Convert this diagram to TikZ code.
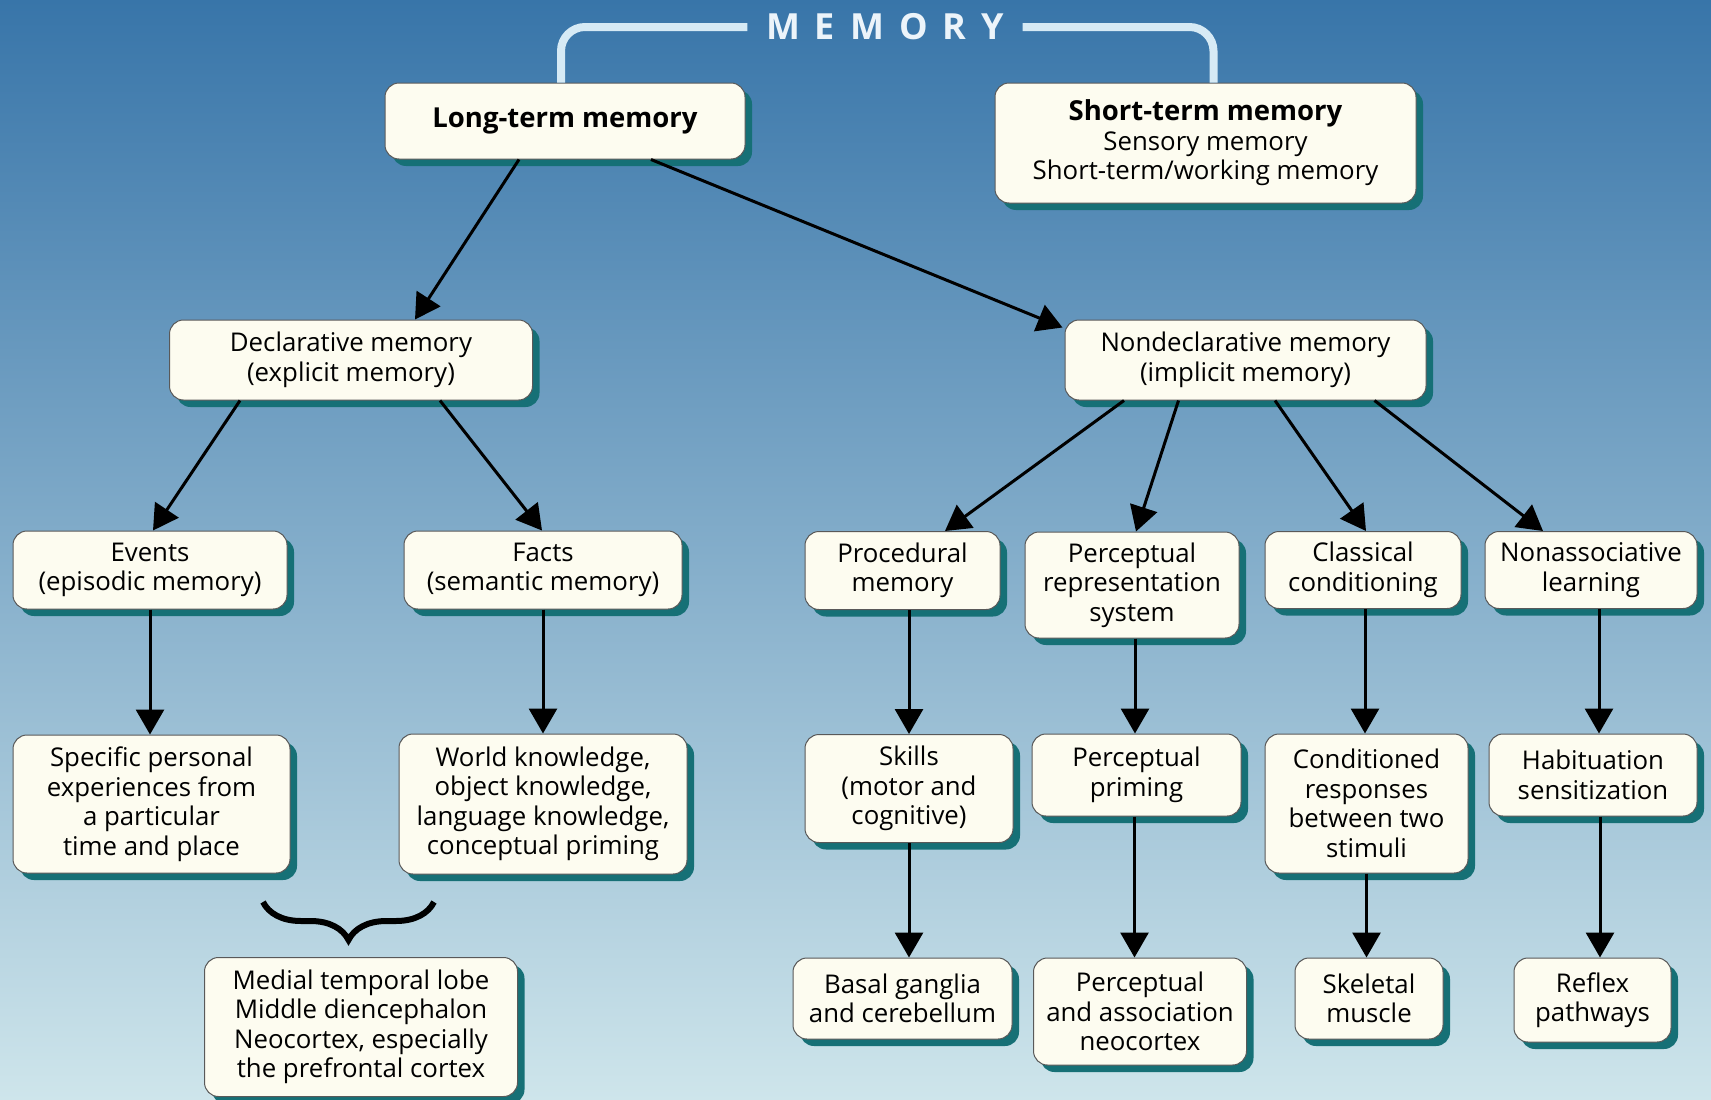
\documentclass[tikz,border=0pt]{standalone}
\usepackage{fontspec}
\setmainfont{Open Sans}
\usetikzlibrary{arrows.meta,shadows,decorations.pathreplacing,calc}

\definecolor{bgtop}{RGB}{56,117,169}
\definecolor{bgmid}{RGB}{118,162,201}
\definecolor{bgbot}{RGB}{206,229,235}
\definecolor{boxfill}{RGB}{253,252,240}
\definecolor{shadowteal}{RGB}{22,112,118}
\definecolor{bracketblue}{RGB}{214,234,245}
\definecolor{memwhite}{RGB}{236,244,250}

\newcommand{\boxtext}{\fontsize{25.8}{29.5}\selectfont}
\newcommand{\headtext}[1]{{\bfseries\fontsize{27.5}{29.5}\selectfont #1}}

\tikzset{
  box/.style={draw=black!65, line width=1pt, fill=boxfill, rounded corners=14pt,
    align=center, inner sep=0pt, font=\boxtext,
    drop shadow={shadow xshift=7pt, shadow yshift=-7pt, fill=shadowteal, opacity=1}},
  arr/.style={line width=3pt, -{Triangle[length=25pt,width=28pt]}},
  bracketline/.style={line width=8pt, draw=bracketblue, rounded corners=24pt},
}

\begin{document}
\begin{tikzpicture}[x=1pt,y=-1pt]
\useasboundingbox (0,0) rectangle (1711,1100);
\shade[top color=bgtop, middle color=bgmid, bottom color=bgbot] (0,0) rectangle (1711,1100);

% title
\node[text=memwhite, inner sep=0pt, minimum width=275pt, minimum height=30pt,
  font=\bfseries\fontsize{36}{36}\selectfont] (mem) at (885,27)
  {M\hspace{15pt}E\hspace{15pt}M\hspace{15pt}O\hspace{15pt}R\hspace{15pt}Y};

% top level
\node[box, minimum width=360pt, minimum height=76pt] (ltm) at (565,121) {\headtext{Long-term memory}};
\node[box, minimum width=421pt, minimum height=120pt] (stm) at (1205.5,143)
  {\headtext{Short-term memory}\\Sensory memory\\Short-term/working memory};

% second level
\node[box, minimum width=363pt, minimum height=80pt] (decl) at (351,360)
  {Declarative memory\\(explicit memory)};
\node[box, minimum width=361pt, minimum height=80pt] (nondecl) at (1245.5,360)
  {Nondeclarative memory\\(implicit memory)};

% third level
\node[box, minimum width=274pt, minimum height=78pt] (events) at (150,570) {Events\\(episodic memory)};
\node[box, minimum width=278pt, minimum height=78pt] (facts) at (543,570) {Facts\\(semantic memory)};
\node[box, minimum width=195pt, minimum height=78pt] (proc) at (902.5,570.5) {Procedural\\memory};
\node[box, minimum width=214pt, minimum height=106pt] (prs) at (1132,585) {Perceptual\\representation\\system};
\node[box, minimum width=196pt, minimum height=77pt] (class) at (1363,570) {Classical\\conditioning};
\node[box, minimum width=212pt, minimum height=77pt] (nonassoc) at (1591,570) {Nonassociative\\learning};

% fourth level
\node[box, minimum width=277pt, minimum height=138pt] (spec) at (151.5,804)
  {Specific personal\\experiences from\\a particular\\time and place};
\node[box, minimum width=288pt, minimum height=140pt] (world) at (543,804)
  {World knowledge,\\object knowledge,\\language knowledge,\\conceptual priming};
\node[box, minimum width=208pt, minimum height=108pt] (skills) at (909,788.5) {Skills\\(motor and\\cognitive)};
\node[box, minimum width=209pt, minimum height=82pt] (priming) at (1136.5,775) {Perceptual\\priming};
\node[box, minimum width=203pt, minimum height=139pt] (cond) at (1366.5,803.5)
  {Conditioned\\responses\\between two\\stimuli};
\node[box, minimum width=208pt, minimum height=82pt] (habit) at (1593,775) {Habituation\\sensitization};

% brain structures
\node[box, minimum width=313pt, minimum height=139pt] (medial) at (361,1027)
  {Medial temporal lobe\\Middle diencephalon\\Neocortex, especially\\the prefrontal cortex};
\node[box, minimum width=219pt, minimum height=81pt] (basal) at (902.5,998.5) {Basal ganglia\\and cerebellum};
\node[box, minimum width=213pt, minimum height=107pt] (percassoc) at (1140,1011.5)
  {Perceptual\\and association\\neocortex};
\node[box, minimum width=148pt, minimum height=81pt] (skel) at (1369,998.5) {Skeletal\\muscle};
\node[box, minimum width=157pt, minimum height=84pt] (reflex) at (1592.5,1000) {Reflex\\pathways};

% bracket joining the two memory systems under the title
\draw[bracketline] ([xshift=-4pt]ltm.north) |- (mem.west);
\draw[bracketline] (mem.east) -| ([xshift=8pt]stm.north);

% connectors
\draw[arr] ([xshift=-46pt]ltm.south) -- ([xshift=64pt]decl.north);
\draw[arr] ([xshift=86pt]ltm.south) -- ([shift={(-2pt,-8pt)}]nondecl.north west);

\draw[arr] ([xshift=-111pt]decl.south) -- ([xshift=3pt]events.north);
\draw[arr] ([xshift=89pt]decl.south) -- ([xshift=-1pt]facts.north);

\draw[arr] ([xshift=-121.5pt]nondecl.south) -- ([xshift=42.5pt]proc.north);
\draw[arr] ([xshift=-67pt]nondecl.south) -- ([xshift=4pt]prs.north);
\draw[arr] ([xshift=29.5pt]nondecl.south) -- ([xshift=3pt]class.north);
\draw[arr] ([xshift=129pt]nondecl.south) -- ([xshift=-48pt]nonassoc.north);

\draw[arr] (events.south) -- (events.south |- spec.north);
\draw[arr] (facts.south) -- (facts.south |- world.north);
\draw[arr] (skills.north |- proc.south) -- (skills.north);
\draw[arr] ([xshift=3pt]prs.south) -- ([xshift=3pt]prs.south |- priming.north);
\draw[arr] ([xshift=2pt]class.south) -- ([xshift=2pt]class.south |- cond.north);
\draw[arr] ([xshift=8pt]nonassoc.south) -- ([xshift=8pt]nonassoc.south |- habit.north);

\draw[arr] (skills.south) -- (skills.south |- basal.north);
\draw[arr] ([xshift=-2pt]priming.south) -- ([xshift=-2pt]priming.south |- percassoc.north);
\draw[arr] (cond.south) -- (cond.south |- skel.north);
\draw[arr] ([xshift=7pt]habit.south) -- ([xshift=7pt]habit.south |- reflex.north);

% brace grouping the declarative outcomes
\coordinate (braceL) at (263,902);
\coordinate (braceR) at (434,902);
\draw[line width=6pt, decorate, decoration={brace, mirror, amplitude=38pt}] (braceL) -- (braceR);
\end{tikzpicture}
\end{document}
